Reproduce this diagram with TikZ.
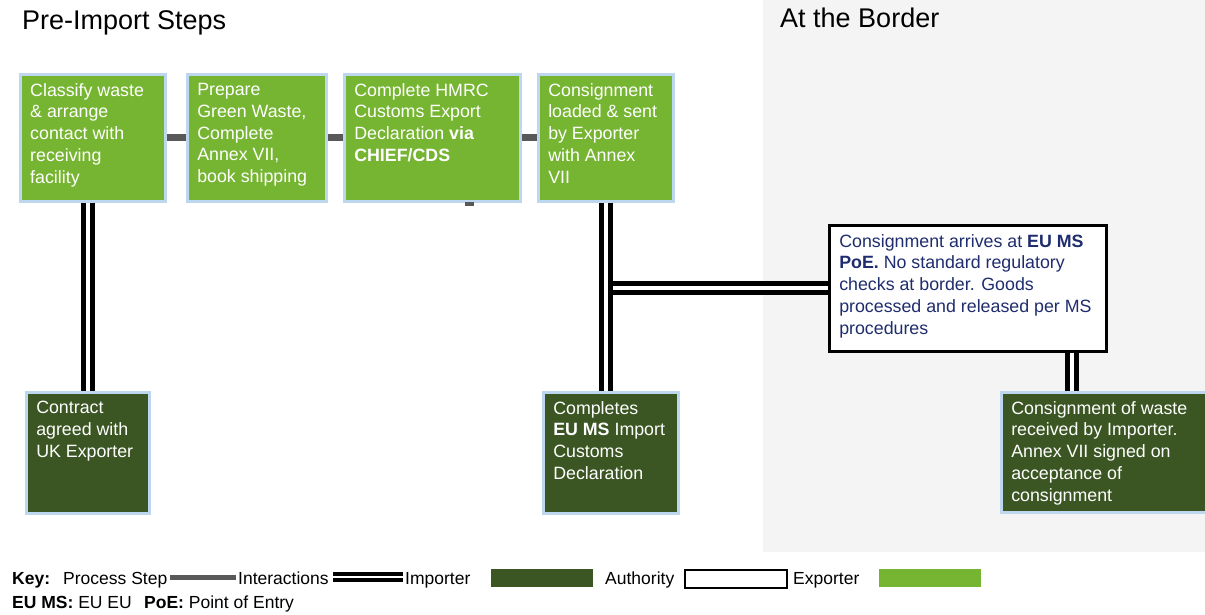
\documentclass[tikz,border=0pt]{standalone}
\usepackage{fontspec}
\setmainfont{Liberation Sans}
\definecolor{exportgreen}{HTML}{76B531}
\definecolor{importgreen}{HTML}{3B5623}
\definecolor{edgeblue}{HTML}{BDD7EE}
\definecolor{stepgray}{HTML}{595959}
\definecolor{authnavy}{HTML}{1F2D6E}
\definecolor{bordergray}{HTML}{F4F4F4}
\newcommand{\cellbody}[3]{\begin{minipage}[t][#2pt][t]{#1pt}#3\end{minipage}}
\begin{document}
\begin{tikzpicture}[x=1pt, y=-1pt,
  stepbox/.style={anchor=north west, font=\fontsize{17.8}{21.8}\selectfont, line width=2.5pt, draw=edgeblue, inner xsep=10pt, inner ysep=9pt, text=white},
  exporterbox/.style={stepbox, fill=exportgreen},
  importerbox/.style={stepbox, fill=importgreen},
  authoritybox/.style={stepbox, draw=black, fill=white, text=authnavy},
  processline/.style={draw=stepgray, line width=7pt},
  interactline/.style={draw=black, line width=5pt, double=white, double distance=4pt},
  headtext/.style={anchor=base west, inner sep=0pt, font=\fontsize{27}{32}\selectfont},
  keytext/.style={anchor=base west, inner sep=0pt, font=\fontsize{17.5}{21}\selectfont},
  keyswatch/.style={anchor=north west, inner sep=0pt, minimum width=102pt, minimum height=18pt}]
 \useasboundingbox (0,0) rectangle (1205,614);
 \fill[bordergray] (763,0) rectangle (1205,552);
 \node[headtext] (preimport) at (22,29) {Pre-Import Steps};
 \node[headtext] (atborder) at (780,27) {At the Border};
 \node[exporterbox] (classify) at (19,73) {\cellbody{125}{109}{Classify waste\\ \& arrange\\ contact with\\ receiving\\ facility}};
 \node[exporterbox] (prepare) at (186,73) {\cellbody{119}{109}{Prepare\\ Green Waste,\\ Complete\\ Annex VII,\\ book shipping}};
 \node[exporterbox] (hmrc) at (343,73) {\cellbody{156}{109}{Complete HMRC\\ Customs Export\\ Declaration \textbf{via}\\ \textbf{CHIEF/CDS}}};
 \node[exporterbox] (loaded) at (537,73) {\cellbody{115}{109}{Consignment\\ loaded \& sent\\ by Exporter\\ with Annex\\ VII}};
 \node[importerbox] (contract) at (25,391) {\cellbody{103}{103}{Contract\\ agreed with\\ UK Exporter}};
 \node[importerbox] (completes) at (542,391) {\cellbody{115}{103}{Completes\\ \textbf{EU MS} Import\\ Customs\\ Declaration}};
 \node[importerbox] (received) at (1000,391) {\cellbody{187}{102}{Consignment of waste\\ received by Importer.\\ Annex VII signed on\\ acceptance of\\ consignment}};
 \node[authoritybox] (arrives) at (828,224) {\cellbody{257}{108}{Consignment arrives at \textbf{EU MS}\\ \textbf{PoE.} No standard regulatory\\ checks at border. Goods\\ processed and released per MS\\ procedures}};
 \draw[processline] (classify) -- (prepare);
 \draw[processline] (prepare) -- (hmrc);
 \draw[processline] (hmrc) -- (loaded);
 \fill[stepgray] (465,202) rectangle (474,206);
 \draw[interactline] (contract.north |- classify.south) -- (contract.north);
 \draw[interactline] (loaded.south |- arrives.west) -- (arrives.west);
 \draw[interactline] (loaded.south) -- (loaded.south |- completes.north);
 \coordinate (drop) at (1071.5,0);
 \draw[interactline] (drop |- arrives.south) -- (drop |- received.north);
 \node[keytext] (keytitle) at (12,584) {\textbf{Key:}};
 \node[keytext] (keystep) at (63,584) {Process Step};
 \node[keytext] (keyinteract) at (238,584) {Interactions};
 \node[keytext] (keyimporter) at (405,584) {Importer};
 \node[keytext] (keyauthority) at (605,584) {Authority};
 \node[keytext] (keyexporter) at (793,584) {Exporter};
 \draw[processline, line width=5pt] ([shift={(3,-7)}]keystep.base east) -- ([shift={(-2,-7)}]keyinteract.base west);
 \draw[interactline, line width=4pt, double distance=2.6pt] ([shift={(4,-7)}]keyinteract.base east) -- ([shift={(-2,-7)}]keyimporter.base west);
 \node[keyswatch, fill=importgreen] (swatchimporter) at (491,569) {};
 \node[keyswatch, draw=black, line width=2pt] (swatchauthority) at (684,569) {};
 \node[keyswatch, fill=exportgreen] (swatchexporter) at (879,569) {};
 \node[keytext] (keyeums) at (12,608) {\textbf{EU MS:} EU EU};
 \node[keytext] (keypoe) at (144,608) {\textbf{PoE:} Point of Entry};
\end{tikzpicture}
\end{document}
